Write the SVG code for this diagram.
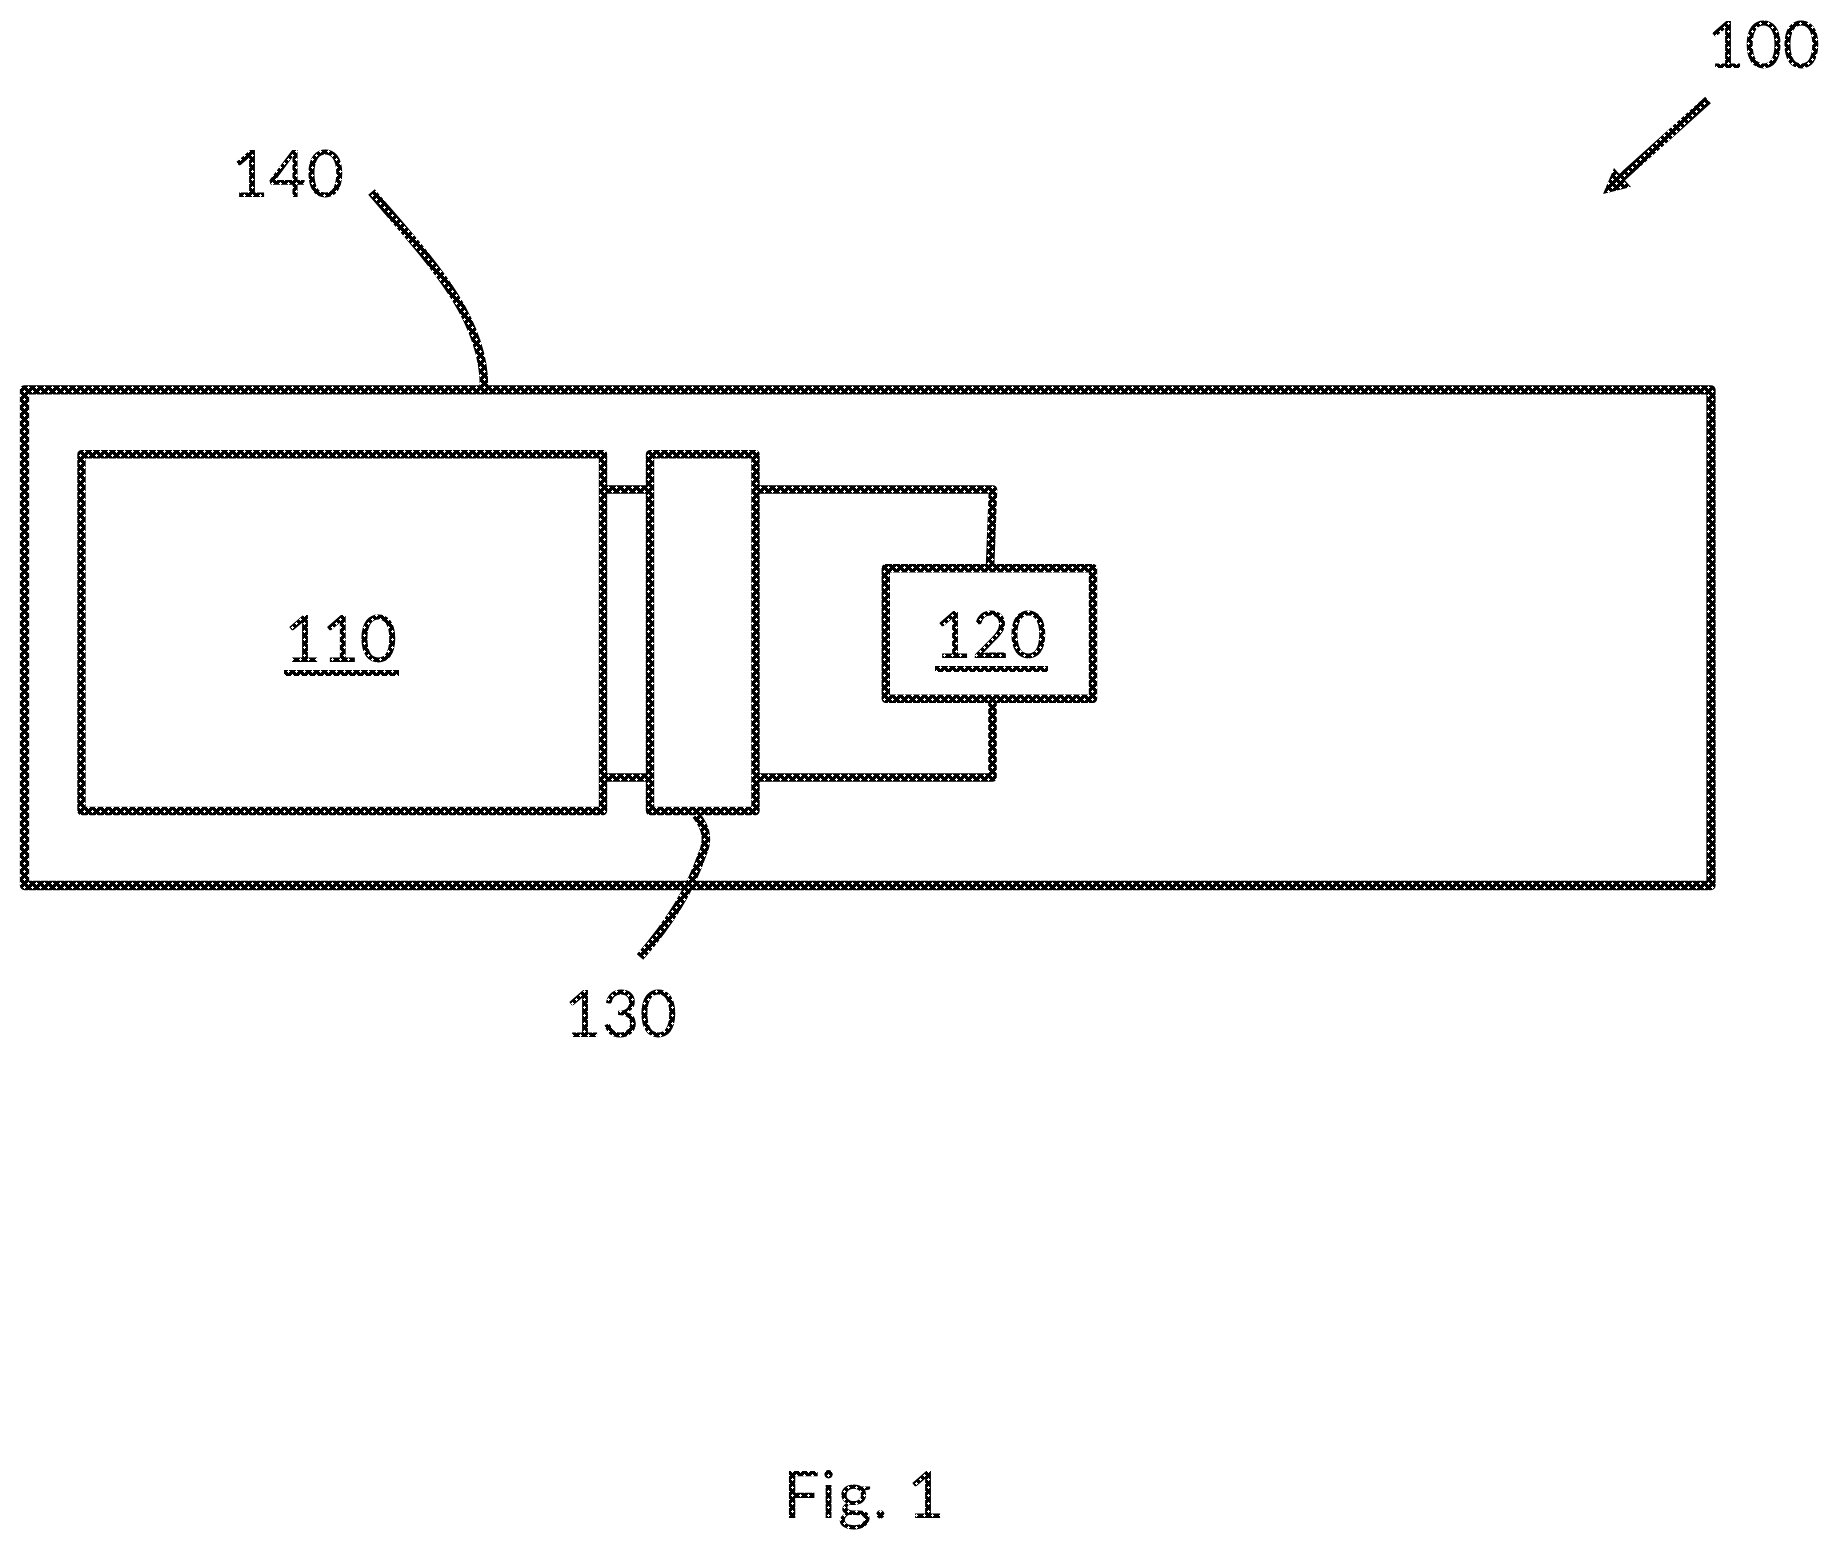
<svg xmlns="http://www.w3.org/2000/svg" width="1837" height="1552" viewBox="0 0 1837 1552">
<style>
.box{fill:none;stroke:url(#dots);stroke-width:8.4;stroke-linejoin:round}
.outer{stroke-width:9.3}
.wire{fill:none;stroke:url(#dots);stroke-width:8.6;stroke-linejoin:round}
.rule{fill:none;stroke:url(#dots);stroke-width:6}
.lbl{font-family:"Lato","Open Sans","Liberation Sans",sans-serif;font-size:65px;fill:url(#dots)}
</style>
<defs>
<pattern id="dots" patternUnits="userSpaceOnUse" width="8" height="8">
<rect width="8" height="8" fill="#000" shape-rendering="crispEdges"/>
<g fill="#fff" shape-rendering="crispEdges">
<rect x="4" y="2" width="1" height="3"/><rect x="3" y="3" width="3" height="1"/>
<rect x="0" y="6" width="1" height="2"/><rect x="0" y="0" width="1" height="1"/><rect x="0" y="7" width="2" height="1"/><rect x="7" y="7" width="1" height="1"/>
</g>
</pattern>
</defs>
<rect width="1837" height="1552" fill="#fff"/>
<g id="connectors">
<path class="wire" d="M603 489.5H650"/>
<path class="wire" d="M603 777.5H650"/>
<path class="wire" d="M755.5 489.5H993L990 568"/>
<path class="wire" d="M755.5 777.5H992.5V699"/>
<path class="wire" d="M371.5 192C425 255 484 315 484 386"/>
<path class="wire" d="M696 815C708 830 708 842 702 855C690 890 668 925 640 957"/>
<g id="arrow-100"><path class="wire" d="M1708 100L1620 179"/><polygon points="1603,194 1614,168 1631,187" fill="url(#dots)"/></g>
</g>
<g id="node-140"><rect class="box outer" x="24.5" y="389.8" width="1686.5" height="495.7"/></g>
<g id="node-110"><rect class="box" x="81.5" y="454.3" width="521.5" height="356.7"/>
<text class="lbl" x="284" y="662">110</text><path class="rule" d="M284 673H399"/></g>
<g id="node-130"><rect class="box" x="650" y="454.3" width="105.5" height="356.7"/></g>
<g id="node-120"><rect class="box" x="885.8" y="568.3" width="207.2" height="130.4"/>
<text class="lbl" x="934" y="658">120</text><path class="rule" d="M935 669H1048"/></g>
<g id="labels">
<text class="lbl" x="231" y="197">140</text>
<text class="lbl" x="1707" y="68">100</text>
<text class="lbl" x="564" y="1037">130</text>
<text class="lbl" x="783" y="1518" letter-spacing="1.2">Fig. 1</text>
</g>
</svg>
